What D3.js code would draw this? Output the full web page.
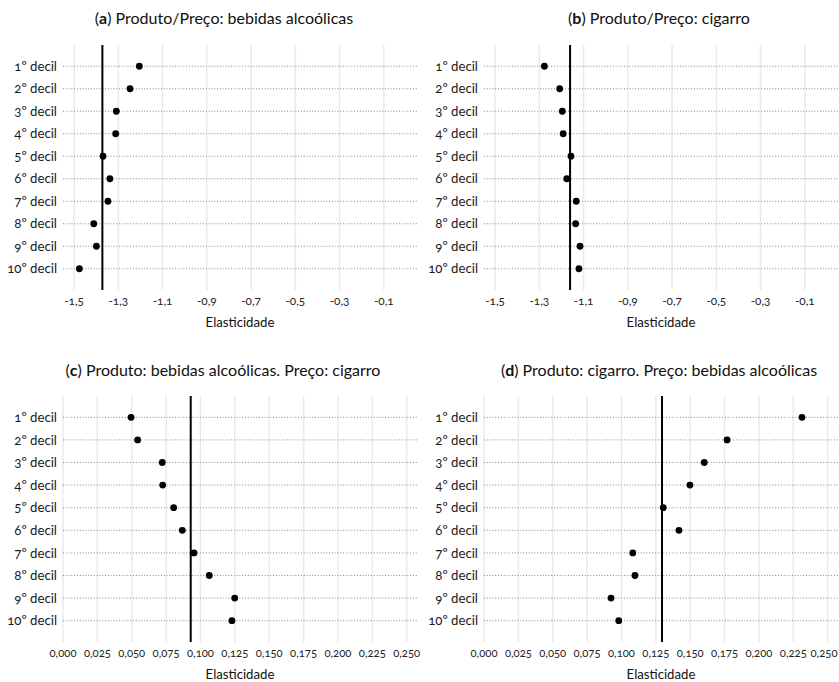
<!DOCTYPE html>
<html>
<head>
<meta charset="utf-8">
<script src="https://cdn.jsdelivr.net/npm/d3@7"></script>
<style>
  body { margin: 0; background: #fff; }
  svg text { font-family: Lato, "Open Sans", sans-serif; font-variant-numeric: oldstyle-nums; font-feature-settings: "onum" 1; }
</style>
</head>
<body>
<div id="chart"></div>
<script>
// deciles (rows) shared by all four panels
const deciles = ["1º decil", "2º decil", "3º decil", "4º decil", "5º decil",
  "6º decil", "7º decil", "8º decil", "9º decil", "10º decil"];

// panel titles: letter is bold, rest is normal
const panelLetters = ["a", "b", "c", "d"];
const panelTitles = [
  "Produto/Preço: bebidas alcoólicas",
  "Produto/Preço: cigarro",
  "Produto: bebidas alcoólicas. Preço: cigarro",
  "Produto: cigarro. Preço: bebidas alcoólicas"
];

// elasticities per decile
const ownAlcohol = [-1.205, -1.247, -1.309, -1.312, -1.369, -1.338, -1.347, -1.411, -1.399, -1.476];
const ownCigarette = [-1.277, -1.208, -1.196, -1.192, -1.157, -1.176, -1.133, -1.136, -1.116, -1.121];
const crossAlcohol = [0.0495, 0.0543, 0.0722, 0.0725, 0.0805, 0.0868, 0.0953, 0.1064, 0.1249, 0.1229];
const crossCigarette = [0.2313, 0.1768, 0.1602, 0.1498, 0.1304, 0.1418, 0.1082, 0.1098, 0.0924, 0.0980];

// overall (all households) elasticity, drawn as the vertical line
const overall = [-1.372, -1.161, 0.0929, 0.1295];

// x-axis ticks
const ownTicks = [-1.5, -1.3, -1.1, -0.9, -0.7, -0.5, -0.3, -0.1];
const crossTicks = [0, 0.025, 0.05, 0.075, 0.1, 0.125, 0.15, 0.175, 0.2, 0.225, 0.25];

const axisTitle = "Elasticidade";

const width = 839, height = 682;

const locale = d3.formatLocale({ decimal: ",", thousands: ".", grouping: [3], currency: ["R$", ""], minus: "-" });
const fmtOwn = locale.format(".1f");
const fmtCross = locale.format(".3f");

// layout of each panel (plot area)
const panels = [
  { values: ownAlcohol, ticks: ownTicks, fmt: fmtOwn, domain: [-1.55, 0.05], x0: 63, x1: 417, y0: 45, y1: 290, titleX: 224, titleY: 18 },
  { values: ownCigarette, ticks: ownTicks, fmt: fmtOwn, domain: [-1.55, 0.05], x0: 484, x1: 838, y0: 45, y1: 290, titleX: 659, titleY: 18 },
  { values: crossAlcohol, ticks: crossTicks, fmt: fmtCross, domain: [0, 0.2575], x0: 63, x1: 417, y0: 396, y1: 642, titleX: 223, titleY: 370 },
  { values: crossCigarette, ticks: crossTicks, fmt: fmtCross, domain: [0, 0.2575], x0: 484, x1: 838, y0: 396, y1: 642, titleX: 659, titleY: 370 }
];

const svg = d3.select("#chart")
  .append("svg")
  .attr("width", width)
  .attr("height", height);

panels.forEach((p, i) => {
  const x = d3.scaleLinear().domain(p.domain).range([p.x0, p.x1]);
  const y = d3.scalePoint().domain(deciles).range([p.y0, p.y1]).padding(0.944);

  const g = svg.append("g");

  // title
  const title = g.append("text")
    .attr("x", p.titleX)
    .attr("y", p.titleY)
    .attr("dy", "0.35em")
    .attr("text-anchor", "middle")
    .attr("font-size", 16)
    .attr("fill", "#111");
  title.append("tspan").text("(");
  title.append("tspan").attr("font-weight", "bold").text(panelLetters[i]);
  title.append("tspan").text(") " + panelTitles[i]);

  // vertical grid
  g.append("g")
    .selectAll("line")
    .data(p.ticks)
    .enter()
    .append("line")
    .attr("x1", d => x(d))
    .attr("x2", d => x(d))
    .attr("y1", p.y0)
    .attr("y2", p.y1)
    .attr("stroke", "#ebebeb")
    .attr("stroke-width", 1.6);

  // dotted row lines
  g.append("g")
    .selectAll("line")
    .data(deciles)
    .enter()
    .append("line")
    .attr("x1", p.x0)
    .attr("x2", p.x1)
    .attr("y1", d => y(d))
    .attr("y2", d => y(d))
    .attr("stroke", "#8a8a8a")
    .attr("stroke-width", 1)
    .attr("stroke-dasharray", "1,1.8");

  // overall elasticity
  g.append("line")
    .attr("x1", x(overall[i]))
    .attr("x2", x(overall[i]))
    .attr("y1", p.y0)
    .attr("y2", p.y1)
    .attr("stroke", "#000")
    .attr("stroke-width", 2);

  // points
  g.append("g")
    .selectAll("circle")
    .data(p.values)
    .enter()
    .append("circle")
    .attr("cx", d => x(d))
    .attr("cy", (d, j) => y(deciles[j]))
    .attr("r", 3.4)
    .attr("fill", "#000");

  // y labels
  g.append("g")
    .selectAll("text")
    .data(deciles)
    .enter()
    .append("text")
    .attr("x", p.x0 - 6)
    .attr("y", d => y(d))
    .attr("dy", "0.35em")
    .attr("text-anchor", "end")
    .attr("font-size", 13.2)
    .attr("fill", "#1a1a1a")
    .text(d => d);

  // x tick labels (last one kept inside the page)
  g.append("g")
    .selectAll("text")
    .data(p.ticks)
    .enter()
    .append("text")
    .attr("x", d => Math.min(x(d), width - 15))
    .attr("y", p.y1 + 11)
    .attr("dy", "0.35em")
    .attr("text-anchor", "middle")
    .attr("font-size", p.ticks.length > 8 ? 11.3 : 11.8)
    .attr("fill", "#222")
    .text(d => p.fmt(d));

  // x axis title
  g.append("text")
    .attr("x", (p.x0 + p.x1) / 2)
    .attr("y", p.y1 + 32)
    .attr("dy", "0.35em")
    .attr("text-anchor", "middle")
    .attr("font-size", 13.2)
    .attr("fill", "#111")
    .text(axisTitle);
});
</script>
</body>
</html>
